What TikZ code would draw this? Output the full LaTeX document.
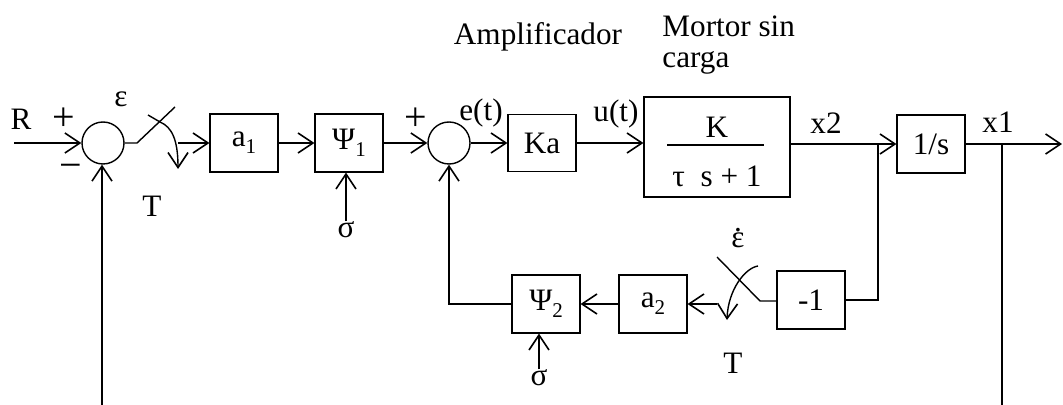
\documentclass[tikz,border=0pt]{standalone}
\usepackage{fontspec}
\setmainfont{Liberation Serif}
\usetikzlibrary{arrows.meta}
\newcommand\blsub[1]{\raisebox{-0.5ex}{\fontsize{10.5}{12}\selectfont #1}}
\newcommand\dotted[1]{{\ooalign{#1\cr\hidewidth\raisebox{0.5em}{.}\hidewidth\cr}}}
\begin{document}
\begin{tikzpicture}[x=0.5pt,y=-0.5pt,
  every node/.style={font=\fontsize{15.6}{18}\selectfont},
  blk/.style={draw, line width=0.6pt, minimum width=34pt, minimum height=29pt, inner sep=0pt},
  sumj/.style={draw, circle, line width=0.7pt, minimum size=21pt, inner sep=0pt},
  wire/.style={line width=0.7pt},
  arr/.style={wire, -{Straight Barb[length=7.5pt,width=10pt,line width=0.8pt]}},
  lbl/.style={inner sep=0pt},
  sgn/.style={inner sep=0pt, font=\fontsize{20}{22}\selectfont}]
\useasboundingbox (0,0) rectangle (1063,405);

% blocks
\node[sumj] (s1) at (103,143) {};
\node[blk] (a1) at (244,143) {a\blsub{1}};
\node[blk] (p1) at (349,143) {Ψ\blsub{1}};
\node[sumj] (s2) at (449,143) {};
\node[blk, minimum height=28.5pt] (ka) at (542,143) {Ka};
\node[draw, line width=0.6pt, minimum width=73pt, minimum height=50pt] (m) at (717,147) {};
\node[blk] (is) at (931,144) {1/s};
\node[blk] (neg) at (811,300) {-1};
\node[blk] (a2) at (653,304) {a\blsub{2}};
\node[blk] (p2) at (546,304) {Ψ\blsub{2}};

% motor transfer function
\coordinate (fl) at (667,145);
\coordinate (fr) at (764,145);
\draw[line width=0.8pt] (fl) -- (fr);
\node[lbl] (kk) at (717,127) {K};
\node[lbl] (den) at (717,176) {τ\ \ s + 1};

% labels
\node[lbl] (lR) at (21,119) {R};
\node[sgn] (lp1) at (64,119) {+};
\node[sgn] (lm1) at (71,171) {−};
\node[lbl] (leps) at (121,99) {ε};
\node[lbl] (lT1) at (152,206) {T};
\node[lbl] (sig1) at (346,230) {σ};
\node[sgn] (lp2) at (416,119) {+};
\node[lbl] (let) at (481,113) {e(t)};
\node[lbl] (lut) at (616,114) {u(t)};
\node[lbl] (lx2) at (826,123) {x2};
\node[lbl] (lx1) at (998,122) {x1};
\node[lbl, anchor=base] (lamp) at (538,45) {Amplificador};
\node[lbl, anchor=north west, align=left, font=\fontsize{15.6}{15.5}\selectfont] (lmot) at (662,15) {Mortor sin\\carga};
\node[lbl] (sig2) at (539,378) {σ};
\node[lbl] (lT2) at (733,363) {T};
\node[lbl] (ledot) at (738,240) {\dotted{ε}};

% forward path
\coordinate (rin) at (14,143);
\draw[arr] (rin) -- (s1.west);
\coordinate (fb1) at (102,405);
\draw[arr] (fb1) -- (fb1 |- s1.south);

\coordinate (sw1a) at (137,143);
\coordinate (sw1b) at (175,107);
\coordinate (sw1c) at (178,143);
\coordinate (sw1d) at (148,115);
\coordinate (sw1e) at (160,122);
\coordinate (sw1f) at (178,169);
\draw[wire] (s1.east) -- (sw1a) -- (sw1b);
\draw[arr] (sw1c) -- (a1.west);
\draw[arr] (sw1d) -- (sw1e) .. controls (172,127) and (178,140) .. (sw1f);

\draw[arr] (a1) -- (p1);
\draw[arr] (sig1.north) -- (sig1.north |- p1.south);
\draw[arr] (p1) -- (s2);
\draw[arr] (s2) -- (ka);
\draw[arr] (ka.east) -- (m.west |- ka.east);
\draw[arr] (m.east |- is.west) -- (is.west);
\coordinate (out) at (1062,144);
\draw[arr] (is) -- (out);
\coordinate (j1) at (1002,144);
\coordinate (fb2) at (1002,405);
\draw[wire] (j1) -- (fb2);

% inner feedback
\coordinate (j2) at (878,144);
\draw[wire] (j2) -- (j2 |- neg.east) -- (neg.east);
\coordinate (sw2a) at (760,301);
\coordinate (sw2b) at (717,257);
\coordinate (sw2c) at (717,304);
\coordinate (sw2d) at (758,266);
\coordinate (sw2e) at (727,320);
\draw[wire] (neg.west |- sw2a) -- (sw2a) -- (sw2b);
\draw[arr] (sw2d) .. controls (745,268) and (728,290) .. (sw2e);
\draw[arr] (sw2c) -- (a2.east);
\draw[arr] (a2) -- (p2);
\draw[arr] (p2.west) -| (s2.south);
\draw[arr] (sig2.north) -- (sig2.north |- p2.south);
\end{tikzpicture}
\end{document}
